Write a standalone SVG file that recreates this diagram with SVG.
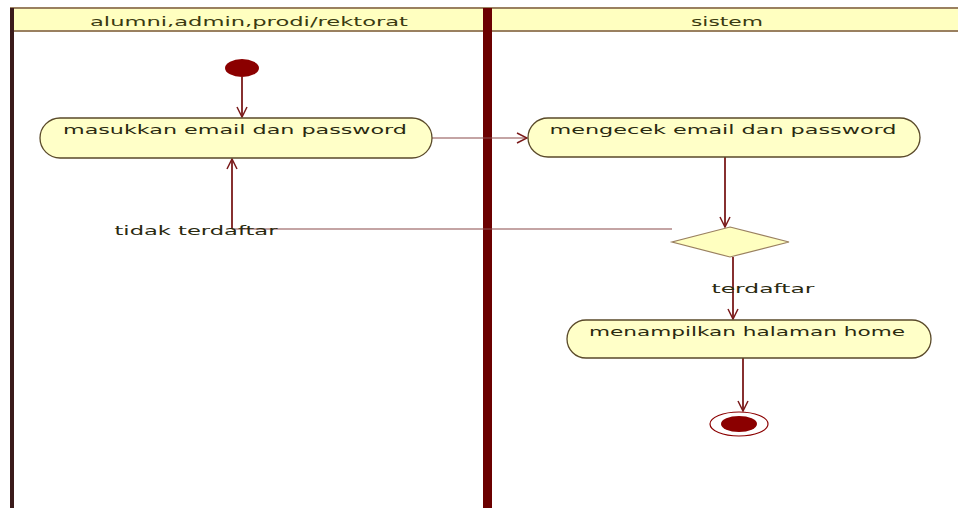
<svg xmlns="http://www.w3.org/2000/svg" width="958" height="508" viewBox="0 0 958 508">
<style>
.lbl{font-family:"DejaVu Sans","Liberation Sans",sans-serif;font-size:13px;fill:#2a2a10;}
.hdr{font-family:"DejaVu Sans","Liberation Sans",sans-serif;font-size:13px;fill:#3a3a10;}
.act{fill:#ffffc8;stroke:#5a4a2a;stroke-width:1.3;}
.con{fill:none;stroke:#7a1a1a;stroke-width:1.8;}
.thin{fill:none;stroke:#8a4a4a;stroke-width:1.2;}
</style>
<defs>
<marker id="arr" viewBox="0 0 12 12" refX="11" refY="6" markerWidth="12" markerHeight="12" markerUnits="userSpaceOnUse" orient="auto">
<path d="M1,1 L11,6 L1,11" fill="none" stroke="#7a1a1a" stroke-width="1.5"/>
</marker>
</defs>
<rect width="958" height="508" fill="#ffffff"/>
<g id="lanes">
<rect x="10" y="8" width="948" height="23" fill="#ffffc0"/>
<line x1="10" y1="8" x2="958" y2="8" stroke="#9a8060" stroke-width="2"/>
<line x1="10" y1="31" x2="958" y2="31" stroke="#9a8060" stroke-width="2"/>
<rect x="10" y="8" width="4" height="500" fill="#3a1a1a"/>
<rect x="483" y="8" width="9" height="500" fill="#6b0000"/>
<text class="hdr" x="249" y="26" text-anchor="middle" textLength="318" lengthAdjust="spacingAndGlyphs">alumni,admin,prodi/rektorat</text>
<text class="hdr" x="727" y="26" text-anchor="middle" textLength="72" lengthAdjust="spacingAndGlyphs">sistem</text>
</g>
<g id="connectors">
<line class="con" x1="242" y1="77" x2="242" y2="117" marker-end="url(#arr)"/>
<line class="thin" x1="432" y1="138" x2="527" y2="138" marker-end="url(#arr)"/>
<line class="con" x1="725" y1="157" x2="725" y2="227" marker-end="url(#arr)"/>
<polyline class="thin" points="672,229 232,229"/>
<line class="con" x1="232" y1="229" x2="232" y2="159" marker-end="url(#arr)"/>
<line class="con" x1="733" y1="257" x2="733" y2="319" marker-end="url(#arr)"/>
<line class="con" x1="743" y1="358" x2="743" y2="411" marker-end="url(#arr)"/>
<text class="lbl" x="196" y="235" text-anchor="middle" textLength="163" lengthAdjust="spacingAndGlyphs">tidak terdaftar</text>
<text class="lbl" x="763" y="293" text-anchor="middle" textLength="103" lengthAdjust="spacingAndGlyphs">terdaftar</text>
</g>
<g id="start">
<ellipse cx="242" cy="68" rx="17" ry="9" fill="#8b0000"/>
</g>
<g id="act1">
<rect class="act" x="40" y="118" width="392" height="40" rx="20" ry="20"/>
<text class="lbl" x="235" y="134" text-anchor="middle" textLength="344" lengthAdjust="spacingAndGlyphs">masukkan email dan password</text>
</g>
<g id="act2">
<rect class="act" x="528" y="118" width="392" height="39" rx="20" ry="19.5"/>
<text class="lbl" x="723" y="134" text-anchor="middle" textLength="347" lengthAdjust="spacingAndGlyphs">mengecek email dan password</text>
</g>
<g id="decision">
<polygon points="730,227 789,242 730,257 672,242" fill="#ffffc0" stroke="#9a8060" stroke-width="1.2"/>
</g>
<g id="act3">
<rect class="act" x="567" y="320" width="364" height="38" rx="19" ry="19"/>
<text class="lbl" x="747" y="336" text-anchor="middle" textLength="316" lengthAdjust="spacingAndGlyphs">menampilkan halaman home</text>
</g>
<g id="end">
<ellipse cx="739" cy="424" rx="29" ry="12" fill="#ffffff" stroke="#8b0000" stroke-width="1.2"/>
<ellipse cx="739" cy="424" rx="18" ry="8" fill="#8b0000"/>
</g>
</svg>
